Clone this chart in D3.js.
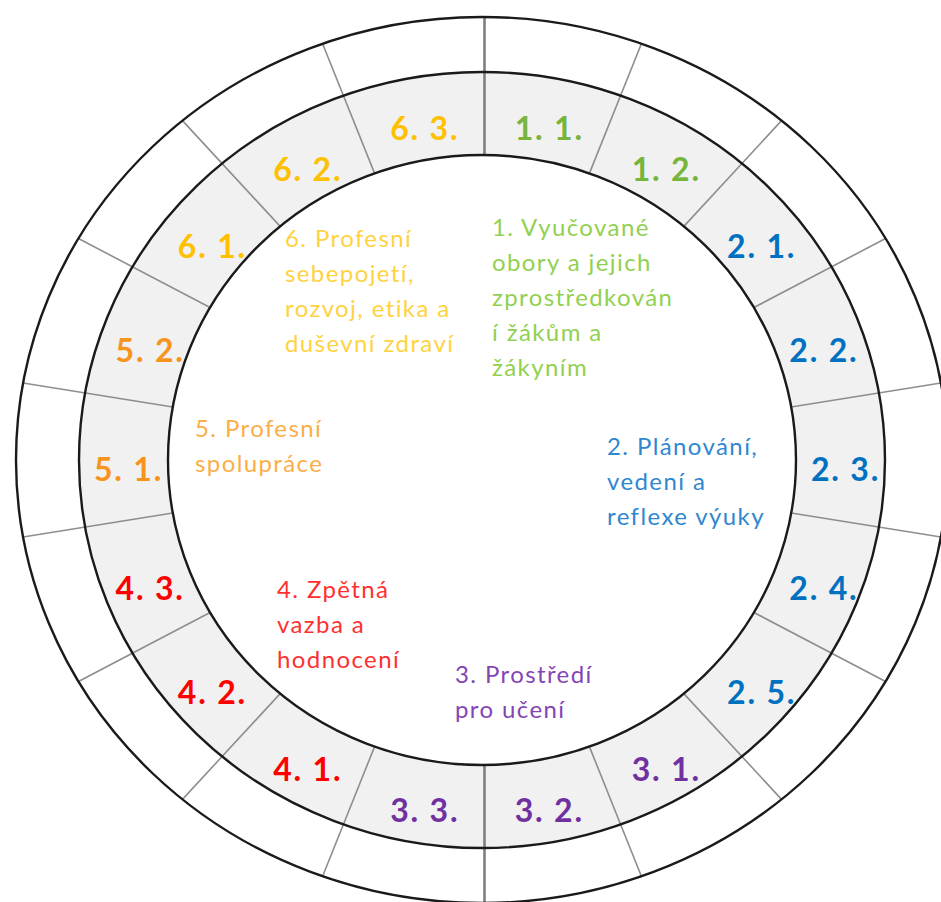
<!DOCTYPE html>
<html><head><meta charset="utf-8">
<script src="https://cdn.jsdelivr.net/npm/d3@7/dist/d3.min.js"></script>
<style>body{margin:0;background:#fff;overflow:hidden} svg{display:block}</style>
</head><body>
<script>
// ---- data ----
const segments = ["1. 1.","1. 2.","2. 1.","2. 2.","2. 3.","2. 4.","2. 5.","3. 1.","3. 2.","3. 3.","4. 1.","4. 2.","4. 3.","5. 1.","5. 2.","6. 1.","6. 2.","6. 3."];
const segmentGroup = [1,1,2,2,2,2,2,3,3,3,4,4,4,5,5,6,6,6];
const groups = [1,2,3,4,5,6];
const groupLines = [
  ["1. Vyučované","obory a jejich","zprostředkován","í žákům a","žákyním"],
  ["2. Plánování,","vedení a","reflexe výuky"],
  ["3. Prostředí","pro učení"],
  ["4. Zpětná","vazba a","hodnocení"],
  ["5. Profesní","spolupráce"],
  ["6. Profesní","sebepojetí,","rozvoj, etika a","duševní zdraví"]
];

// ---- layout / style ----
const W = 941, H = 902;
const cx = 482, cy = 460;
const ringInner = {rx: 314, ry: 305};
const ringMid   = {rx: 403, ry: 388};
const ringOuter = {rx: 466, ry: 443};
const ringColor = {1:"#77b53c",2:"#0070c0",3:"#7030a0",4:"#ff0000",5:"#f7941d",6:"#ffc000"};
const textColor = {1:"#92d050",2:"#2f87d0",3:"#8544b5",4:"#ff3030",5:"#fbae48",6:"#ffd23f"};
const groupLabelAnchor = {1:[492,236],2:[607,455],3:[455,683],4:[277,598],5:[195,437],6:[285,247]};
const lineStep = 35;

const svg = d3.select("body").append("svg").attr("width", W).attr("height", H);

const angle = d3.scaleBand().domain(segments).range([0, 2*Math.PI]).paddingInner(0).paddingOuter(0);
const bw = angle.bandwidth();
const pt = (a, r) => [cx + r.rx*Math.sin(a), cy - r.ry*Math.cos(a)];
const line = d3.line();

function sector(a0, a1, rIn, rOut){
  const n = 40;
  const outer = d3.range(n+1).map(i => pt(a0 + (a1-a0)*i/n, rOut));
  const inner = d3.range(n+1).map(i => pt(a1 - (a1-a0)*i/n, rIn));
  return line(outer.concat(inner)) + "Z";
}

// ring sectors
svg.append("g").selectAll("path.gray").data(segments).join("path")
  .attr("d", s => sector(angle(s), angle(s)+bw, ringInner, ringMid))
  .attr("fill", "#f1f1f1");
svg.append("g").selectAll("path.white").data(segments).join("path")
  .attr("d", s => sector(angle(s), angle(s)+bw, ringMid, ringOuter))
  .attr("fill", "#ffffff");

// spokes
svg.append("g").selectAll("line").data(segments).join("line")
  .each(function(s){
    const a = angle(s);
    const p0 = pt(a, ringInner), p1 = pt(a, ringOuter);
    const isMain = Math.abs(Math.sin(a)) < 1e-6;
    d3.select(this)
      .attr("x1", p0[0]+ (isMain?2.5:0)).attr("y1", p0[1])
      .attr("x2", p1[0]+ (isMain?2.5:0)).attr("y2", isMain && Math.cos(a) < 0 ? H : p1[1])
      .attr("stroke", isMain ? "#7f7f7f" : "#8e8e8e")
      .attr("stroke-width", isMain ? 2.6 : 1.6);
  });

// ellipse outlines
svg.append("g").selectAll("ellipse").data([ringInner, ringMid, ringOuter]).join("ellipse")
  .attr("cx", cx).attr("cy", cy)
  .attr("rx", d => d.rx).attr("ry", d => d.ry)
  .attr("fill", "none").attr("stroke", "#1a1a1a").attr("stroke-width", 2.4);

// ring labels
const rLab = {rx: (ringInner.rx+ringMid.rx)/2, ry: (ringInner.ry+ringMid.ry)/2};
svg.append("g").selectAll("text").data(segments).join("text")
  .each(function(s, i){
    const p = pt(angle(s)+bw/2, rLab);
    d3.select(this).attr("x", p[0]+5).attr("y", p[1]+21);
  })
  .attr("text-anchor", "middle")
  .attr("font-family", "Lato, 'Open Sans', sans-serif")
  .attr("font-weight", 700)
  .attr("font-size", 32)
  .attr("letter-spacing", 1.8)
  .attr("fill", (s, i) => ringColor[segmentGroup[i]])
  .text(s => s);

// group labels
const gl = svg.append("g");
groups.forEach((g, gi) => {
  const [x, y] = groupLabelAnchor[g];
  const t = gl.append("text")
    .attr("font-family", "Lato, 'Open Sans', sans-serif")
    .attr("font-size", 24)
    .attr("letter-spacing", 1.4)
    .attr("fill", textColor[g]);
  groupLines[gi].forEach((ln, li) => {
    t.append("tspan").attr("x", x).attr("y", y + li*lineStep).text(ln);
  });
});
</script>
</body></html>
